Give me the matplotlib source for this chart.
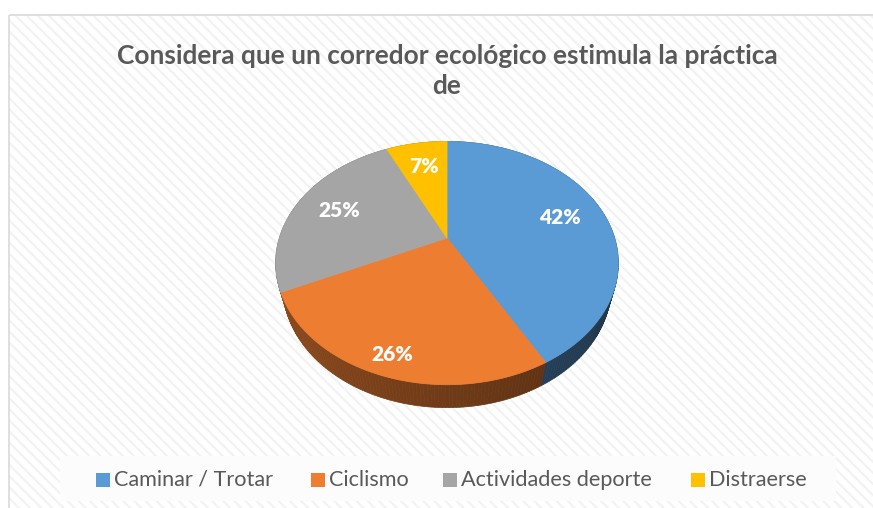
import numpy as np
import matplotlib
matplotlib.use("Agg")
import matplotlib.pyplot as plt
from matplotlib.patches import Rectangle, Polygon

# ---------------- data ----------------
title = "Considera que un corredor ecológico estimula la práctica\nde"
categories = ["Caminar / Trotar", "Ciclismo", "Actividades deporte", "Distraerse"]
values = [42, 26, 25, 7]
colors = ["#5B9BD5", "#ED7D31", "#A5A5A5", "#FFC000"]

# ---------------- layout ----------------
W, H = 873, 508
fig = plt.figure(figsize=(W / 100, H / 100), dpi=100)
ax = fig.add_axes([0, 0, 1, 1])
ax.set_xlim(0, W)
ax.set_ylim(H, 0)
ax.axis("off")

plt.rcParams["hatch.linewidth"] = 1.5
# chart area with diagonal stripe texture
ax.add_patch(Rectangle((9, 15), W, H, facecolor="white", edgecolor="none", zorder=0))
ax.add_patch(Rectangle((9, 15), W, H, facecolor="none", edgecolor="#F2F2F2",
                       hatch="\\\\\\", linewidth=0, zorder=0.5))
ax.add_patch(Rectangle((9, 15), W, H, facecolor="none", edgecolor="#D9D9D9",
                       linewidth=1.2, zorder=0.6))

# 3D perspective parameters
alpha = np.radians(44)
s, c = np.sin(alpha), np.cos(alpha)
D, f = 3.49, 585.0
cx, cy = 447.0, 238.0
h = 0.21


def proj(x, y, z):
    depth = D - z * c - y * s
    up = y * c - z * s
    return cx + f * x / depth, cy - f * up / depth, depth


def darker(col, k):
    rgb = np.array(matplotlib.colors.to_rgb(col))
    return tuple(np.clip(rgb * k, 0, 1))


fracs = np.array(values, dtype=float) / np.sum(values)
bounds = np.concatenate([[0], np.cumsum(fracs)]) * 2 * np.pi  # clockwise from far point

# ---- side walls ----
walls = []
for i in range(len(values)):
    t0, t1 = bounds[i], bounds[i + 1]
    n = max(int((t1 - t0) / np.radians(1.0)), 2)
    ts = np.linspace(t0, t1, n + 1)
    for a, b in zip(ts[:-1], ts[1:]):
        pts = []
        for th, yy in ((a, 0), (b, 0), (b, -h), (a, -h)):
            X, Y, dep = proj(np.sin(th), yy, -np.cos(th))
            pts.append((X, Y))
        mid = 0.5 * (a + b)
        dep = proj(np.sin(mid), -h / 2, -np.cos(mid))[2]
        xs = np.sin(mid)
        k = 0.47 - 0.13 * xs
        walls.append((dep, pts, darker(colors[i], k)))
walls.sort(key=lambda w: -w[0])
for dep, pts, col in walls:
    ax.add_patch(Polygon(pts, closed=True, facecolor=col, edgecolor=col,
                         linewidth=0.5, zorder=2))

# ---- top faces ----
for i in range(len(values)):
    t0, t1 = bounds[i], bounds[i + 1]
    ts = np.linspace(t0, t1, 200)
    pts = [proj(0, 0, 0)[:2]] + [proj(np.sin(t), 0, -np.cos(t))[:2] for t in ts]
    ax.add_patch(Polygon(pts, closed=True, facecolor=colors[i], edgecolor=colors[i],
                         linewidth=0.6, zorder=3))

# ---- data labels ----
label_r = [0.72, 0.87, 0.72, 0.72]
for i, v in enumerate(values):
    mid = 0.5 * (bounds[i] + bounds[i + 1])
    X, Y, _ = proj(label_r[i] * np.sin(mid), 0, -label_r[i] * np.cos(mid))
    ax.text(X, Y, f"{v}%", color="white", fontsize=15, fontweight="heavy",
            family="Lato", ha="center", va="center", zorder=5)

# ---- title ----
ax.text(447, 71, title, ha="center", va="center", fontsize=18.9, fontweight="bold",
        family="Lato", color="#595959", linespacing=1.3, zorder=5)

# ---- legend ----
ax.add_patch(Rectangle((60, 456), 776, 45, facecolor="#FCFCFC", edgecolor="none", zorder=1))
leg_sq_x = [96, 311, 443, 691]
leg_y = 479.5
for i, cat in enumerate(categories):
    ax.add_patch(Rectangle((leg_sq_x[i], leg_y - 7), 13.5, 14.5, facecolor=colors[i],
                           edgecolor="none", zorder=5))
    ax.text(leg_sq_x[i] + 18, leg_y, cat, ha="left", va="center", fontsize=15.6,
            family="Lato", color="#595959", zorder=5)

fig.savefig("out.png", dpi=100)
